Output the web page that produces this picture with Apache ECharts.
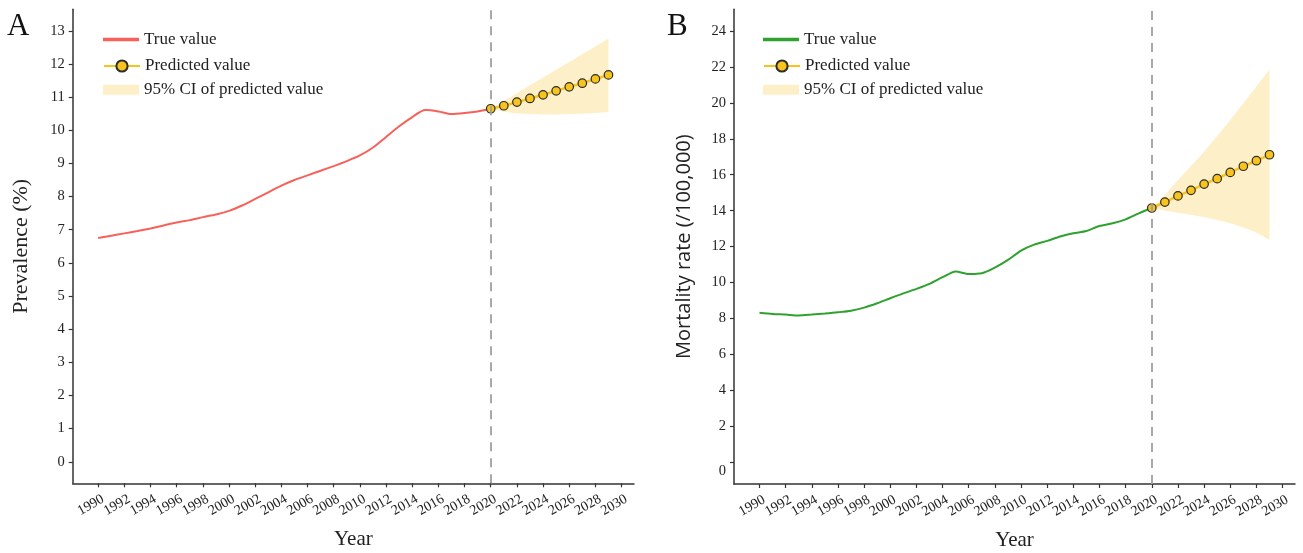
<!DOCTYPE html>
<html><head><meta charset="utf-8">
<script src="https://cdn.jsdelivr.net/npm/echarts@6/dist/echarts.min.js"></script>
<style>html,body{margin:0;padding:0;background:#fff}#c{width:1303px;height:553px}</style>
</head><body><div id="c"></div>
<script>
// ---------- data ----------
const yearsTrue = [1990,1991,1992,1993,1994,1995,1996,1997,1998,1999,2000,2001,2002,2003,2004,2005,2006,2007,2008,2009,2010,2011,2012,2013,2014,2015,2016,2017,2018,2019,2020];
const yearsPred = [2020,2021,2022,2023,2024,2025,2026,2027,2028,2029];
const xTicks = [1990,1992,1994,1996,1998,2000,2002,2004,2006,2008,2010,2012,2014,2016,2018,2020,2022,2024,2026,2028,2030];
const yTicksA = [0,1,2,3,4,5,6,7,8,9,10,11,12,13];
const yTicksB = [0,2,4,6,8,10,12,14,16,18,20,22,24];

// Panel A: prevalence (%)
const trueA = [6.75,6.82,6.89,6.96,7.04,7.13,7.22,7.29,7.38,7.46,7.57,7.73,7.93,8.13,8.33,8.50,8.64,8.78,8.92,9.07,9.24,9.48,9.80,10.12,10.40,10.61,10.57,10.49,10.52,10.57,10.65];
const predA = [10.65,10.74,10.85,10.96,11.07,11.19,11.31,11.42,11.55,11.67];
const ciLowA = [10.65,10.56,10.51,10.49,10.48,10.48,10.49,10.50,10.52,10.55];
const ciUpA  = [10.65,10.89,11.12,11.36,11.59,11.83,12.06,12.30,12.53,12.77];

// Panel B: mortality rate (/100,000)
const trueB = [8.33,8.26,8.22,8.17,8.22,8.28,8.35,8.44,8.61,8.85,9.13,9.40,9.65,9.93,10.30,10.62,10.48,10.52,10.83,11.26,11.78,12.11,12.32,12.56,12.74,12.87,13.15,13.30,13.52,13.85,14.15];
const predB = [14.15,14.48,14.82,15.13,15.48,15.78,16.13,16.47,16.78,17.11];
const ciLowB = [14.15,14.00,13.89,13.78,13.63,13.48,13.30,13.06,12.78,12.37];
const ciUpB  = [14.15,14.87,15.70,16.48,17.28,18.15,19.04,19.97,20.90,21.86];

const splitYear = 2020;

// ---------- styles ----------
const SERIF = 'Liberation Serif';
const SANS = 'Open Sans';
const TXT = '#222';
const AX = '#333';
const RED = '#f8615a';
const GREEN = '#2ea12e';
const GOLD = '#f7c31c';
const CI = '#fdf0c8';
const X_MIN = 1988.05, X_MAX = 2030.95;

const zip = (xs, ys) => xs.map((x, i) => [x, ys[i]]);

function xAxis(gi) {
  // blank labels at the axis ends keep the automatic min/max-label hiding off the real labels
  const labelValues = [X_MIN].concat(xTicks, [X_MAX]);
  return {
    type: 'value', gridIndex: gi, min: X_MIN, max: X_MAX,
    name: 'Year', nameLocation: 'middle', nameGap: 46,
    nameTextStyle: {fontFamily: SERIF, fontSize: 21, color: TXT},
    axisLine: {show: true, onZero: false, lineStyle: {color: AX, width: 1.5}},
    axisTick: {show: true, length: 4, customValues: xTicks, lineStyle: {color: AX, width: 1.2}},
    axisLabel: {customValues: labelValues, rotate: 30, align: 'center', verticalAlign: 'middle',
      padding: [0, 17, 0, 0], margin: 17.5, fontFamily: SERIF, fontSize: 14, lineHeight: 11, color: TXT,
      hideOverlap: false,
      formatter: v => xTicks.indexOf(v) >= 0 ? String(v) : ''},
    splitLine: {show: false}
  };
}
function yAxis(gi, min, max, ticks, name, nameFont, nameSize, rich) {
  const lab = {customValues: ticks, margin: 8, fontFamily: SERIF, fontSize: 14.5, color: TXT,
    showMinLabel: true, showMaxLabel: true, formatter: v => String(v)};
  if (rich) {
    lab.formatter = v => v === 0 ? '{z|0}' : String(v);
    lab.rich = {z: {padding: [18, 0, 0, 0], fontFamily: SERIF, fontSize: 14.5, color: TXT}};
  }
  return {
    type: 'value', gridIndex: gi, min, max,
    name, nameLocation: 'middle', nameGap: 40, nameRotate: 90,
    nameTextStyle: {fontFamily: nameFont, fontSize: nameSize, color: TXT},
    axisLine: {show: true, onZero: false, lineStyle: {color: AX, width: 1.5}},
    axisTick: {show: true, length: 4, customValues: ticks, lineStyle: {color: AX, width: 1.2}},
    axisLabel: lab,
    splitLine: {show: false}
  };
}
function ciSeries(gi, lo, up) {
  return {
    type: 'custom', name: '95% CI of predicted value', xAxisIndex: gi, yAxisIndex: gi,
    data: yearsPred.map((y, i) => [y, lo[i], up[i]]),
    encode: {x: 0, y: [1, 2]},
    renderItem: function (params, api) {
      if (params.dataIndex !== 0) return;
      const upper = yearsPred.map((y, i) => api.coord([y, up[i]]));
      const lower = yearsPred.map((y, i) => api.coord([y, lo[i]])).reverse();
      return {type: 'polygon', shape: {points: upper.concat(lower)}, style: {fill: CI}};
    },
    itemStyle: {color: CI}, silent: true, z: 1
  };
}
function panelSeries(gi, trueData, pred, lo, up, color) {
  return [
    ciSeries(gi, lo, up),
    {type: 'line', name: 'True value', xAxisIndex: gi, yAxisIndex: gi,
      data: zip(yearsTrue, trueData), symbol: 'none', smooth: 0.25,
      lineStyle: {color, width: 2}, itemStyle: {color}, z: 3,
      markLine: {silent: true, symbol: 'none', label: {show: false},
        lineStyle: {type: [9, 7], color: '#9f9f9f', width: 1.8},
        data: [{xAxis: splitYear}]}},
    {type: 'line', name: 'Predicted value', xAxisIndex: gi, yAxisIndex: gi,
      data: zip(yearsPred, pred), symbol: 'circle', symbolSize: 8.5,
      lineStyle: {color: GOLD, width: 2.5},
      itemStyle: {color: GOLD, borderColor: '#2b2b2b', borderWidth: 1.2}, z: 4}
  ];
}
function legends(left, trueColor) {
  const common = {left, orient: 'vertical', padding: 0, selectedMode: false,
    textStyle: {fontFamily: SERIF, fontSize: 17, color: TXT, lineHeight: 18}};
  return [
    Object.assign({}, common, {top: 39.5 - 9, itemWidth: 36, itemHeight: 3.5,
      data: [{name: 'True value', icon: 'rect', itemStyle: {color: trueColor, borderWidth: 0}}]}),
    Object.assign({}, common, {top: 66 - 9, itemWidth: 36, itemHeight: 14,
      data: [{name: 'Predicted value'}]}),
    Object.assign({}, common, {top: 89.7 - 9, itemWidth: 36, itemHeight: 10,
      data: [{name: '95% CI of predicted value', icon: 'rect', itemStyle: {color: CI, borderWidth: 0}}]})
  ];
}

const chart = echarts.init(document.getElementById('c'), null, {renderer: 'canvas'});
chart.setOption({
  animation: false,
  backgroundColor: '#fff',
  title: [
    {text: 'A', left: 7, top: 11, padding: 0, textStyle: {fontFamily: SERIF, fontSize: 31, fontWeight: 'normal', color: '#111'}},
    {text: 'B', left: 667, top: 11, padding: 0, textStyle: {fontFamily: SERIF, fontSize: 31, fontWeight: 'normal', color: '#111'}}
  ],
  grid: [
    {left: 72.7, right: 669, top: 9.3, bottom: 69.7, outerBoundsMode: 'none', containLabel: false},
    {left: 734, right: 8, top: 9.3, bottom: 69, outerBoundsMode: 'none', containLabel: false}
  ],
  xAxis: [xAxis(0), xAxis(1)],
  yAxis: [
    yAxis(0, -0.65, 13.65, yTicksA, 'Prevalence (%)', SERIF, 22, false),
    yAxis(1, -1.2, 25.2, yTicksB, 'Mortality rate (/100,000)', SANS, 20, true)
  ],
  legend: legends(103, RED).concat(legends(763, GREEN)),
  series: panelSeries(0, trueA, predA, ciLowA, ciUpA, RED)
    .concat(panelSeries(1, trueB, predB, ciLowB, ciUpB, GREEN))
});
</script>
</body></html>
